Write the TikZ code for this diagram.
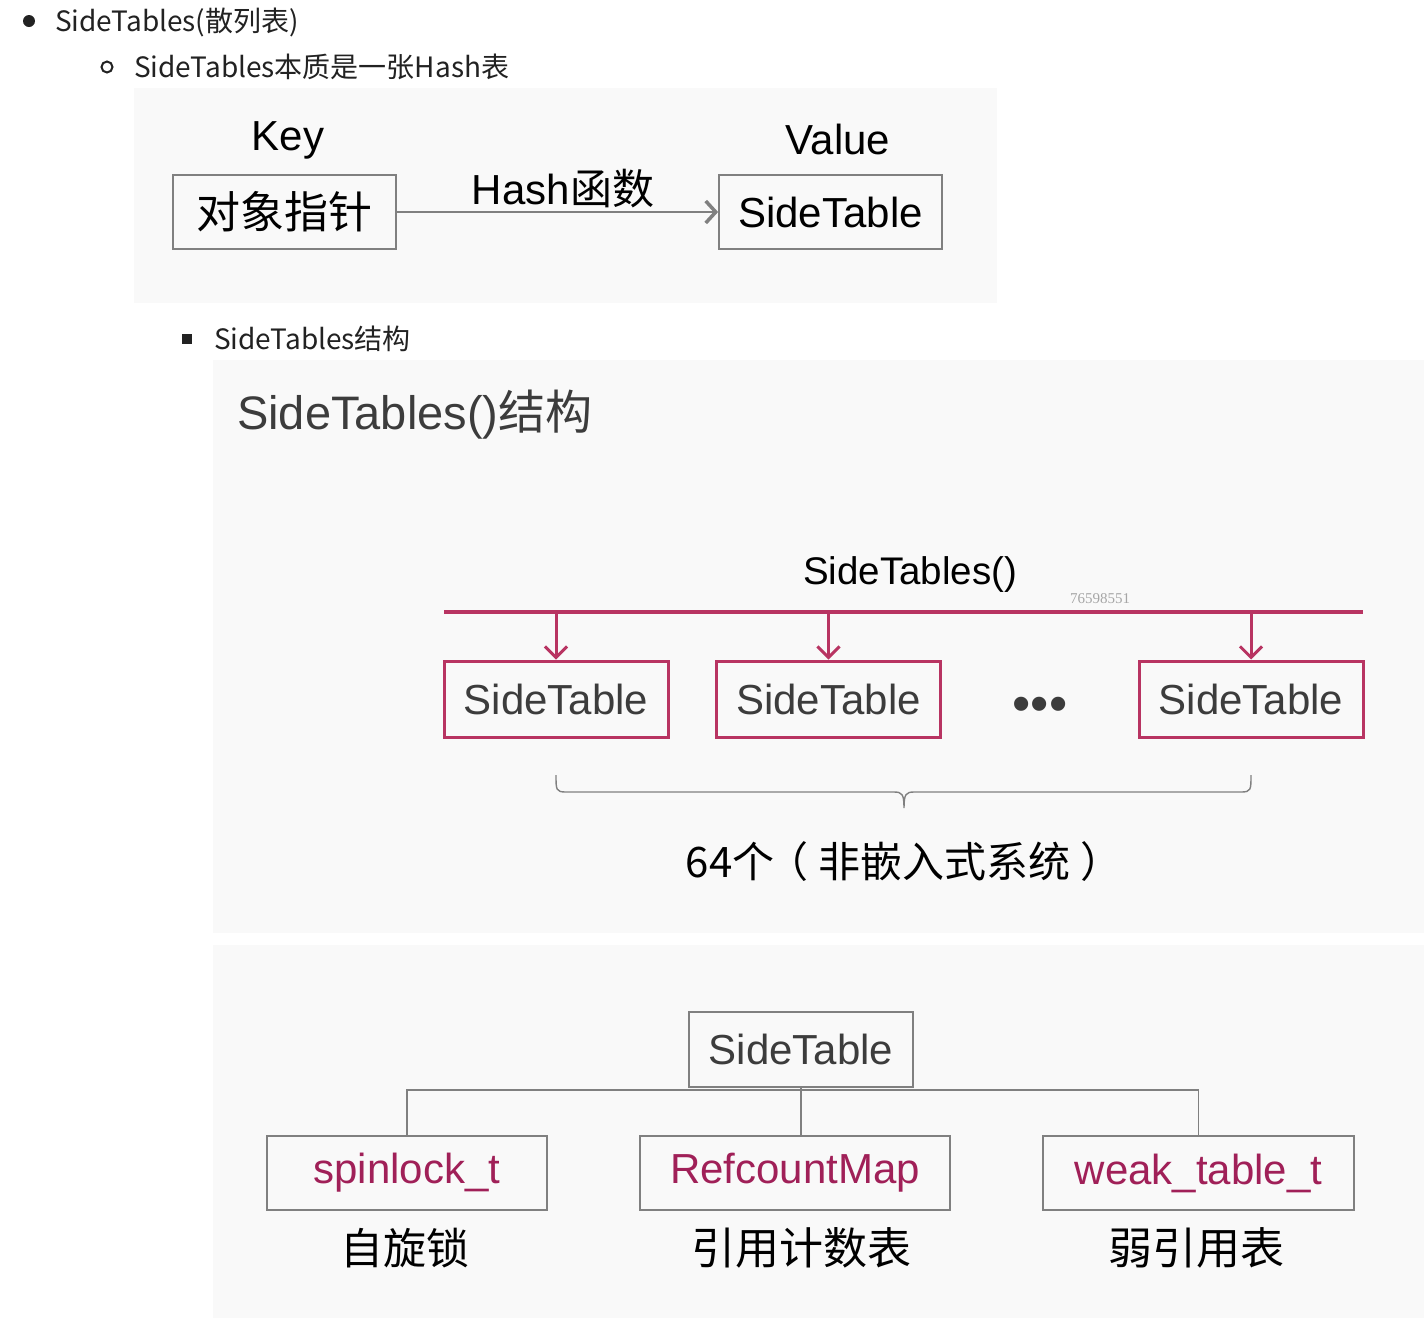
\documentclass[tikz,border=0pt]{standalone}
\usepackage{fontspec}
\setmainfont{Liberation Sans}
\newfontfamily\cjk{Noto Sans CJK SC}
\newfontfamily\wmfont{Liberation Serif}
\usetikzlibrary{arrows.meta}
\definecolor{acc}{RGB}{184,52,98}
\definecolor{acctext}{RGB}{160,32,88}
\definecolor{boxgray}{RGB}{128,128,128}
\definecolor{panel}{RGB}{249,249,249}
\definecolor{txt}{RGB}{34,34,34}
\definecolor{dtxt}{RGB}{60,60,60}
\newcommand\fsz[1]{\fontsize{#1}{#1}\selectfont}
\tikzset{
  gbox/.style={draw=boxgray, line width=1.8pt, inner sep=0pt, text=black},
  abox/.style={draw=acc, line width=3pt, inner sep=0pt, text=dtxt, minimum width=224pt, minimum height=76pt},
  plain/.style={inner sep=0pt},
  gline/.style={draw=boxgray, line width=1.6pt},
  garrow/.style={draw=boxgray, line width=2pt, -{Straight Barb[length=10pt,width=22pt,line width=3.5pt]}},
  aarrow/.style={draw=acc, line width=3pt, -{Straight Barb[length=11pt,width=22pt]}},
}
\begin{document}
\begin{tikzpicture}[x=1pt,y=-1pt]
\useasboundingbox (0,0) rectangle (1424,1318);
\fill[white] (0,0) rectangle (1424,1318);
\fill[panel] (134,88) rectangle (997,303);
\fill[panel] (213,360) rectangle (1424,933);
\fill[panel] (213,945) rectangle (1424,1318);

% bullets
\fill[txt] (29,21) circle (6pt);
\node[plain, anchor=west, text=txt] (b1) at (55,22) {\cjk\fsz{28}SideTables(散列表)};
\draw[txt, line width=2pt] (107,67) circle (5.5pt);
\node[plain, anchor=west, text=txt] (b2) at (134,67) {\cjk\fsz{28}SideTables本质是一张Hash表};
\fill[txt] (182,334) rectangle (192,344);
\node[plain, anchor=west, text=txt] (b3) at (214,339) {\cjk\fsz{28}SideTables结构};

% Key / Value diagram
\node[plain] (keyl) at (288,140) {\fsz{42}Key};
\node[plain] (vall) at (838,139) {\fsz{42}Value};
\node[gbox, minimum width=223pt, minimum height=74pt] (key) at (284.5,212) {\cjk\fsz{44}对象指针};
\node[gbox, minimum width=223pt, minimum height=74pt] (val) at (830.5,212) {\fsz{42}SideTable};
\draw[garrow] (key.east) -- (val.west);
\node[plain] (hash) at (563,189) {\fsz{42}Hash{\cjk 函数}};

% SideTables() structure
\node[plain, anchor=west, text=dtxt] (title) at (237,415) {\fsz{47}SideTables(){\cjk 结构}};
\node[plain, text=black] (stsl) at (910,575) {\fsz{38.5}SideTables()};
\node[plain, text=black!35] (wm) at (1100,599) {\wmfont\fsz{15}76598551};
\coordinate (busL) at (444,612);
\coordinate (busR) at (1363,612);
\draw[acc, line width=4pt] (busL) -- (busR);
\node[abox] (st1) at (556,699) {\fsz{42}SideTable};
\node[abox] (st2) at (828.5,699) {\fsz{42}SideTable};
\node[abox] (st3) at (1251,699) {\fsz{42}SideTable};
\coordinate (t1) at (st1.north |- busL);
\coordinate (t2) at (st2.north |- busL);
\coordinate (t3) at (st3.north |- busL);
\draw[aarrow] (t1) -- (st1.north);
\draw[aarrow] (t2) -- (st2.north);
\draw[aarrow] (t3) -- (st3.north);
\node[plain, text=dtxt] (dots) at (1040,709) {\fsz{52}•••};
\coordinate (brL) at (556,775);
\coordinate (brM) at (904,808);
\coordinate (brR) at (1251,775);
\draw[gline, line width=1.4pt] (brL) .. controls (556,790) and (556,792) .. (566,792) -- (894,792) .. controls (902,792) and (904,794) .. (brM)
  .. controls (904,794) and (906,792) .. (914,792) -- (1241,792) .. controls (1251,792) and (1251,790) .. (brR);
\node[plain, text=black] (cnt) at (904,862) {\cjk\fsz{42}64个\hspace{-8pt}（\hspace{10pt}非嵌入式系统\hspace{10pt}）};

% SideTable members
\node[gbox, text=dtxt, minimum width=224pt, minimum height=75pt] (stt) at (801,1049.5) {\fsz{42}SideTable};
\node[gbox, text=acctext, minimum width=280pt, minimum height=74pt] (c1) at (407,1173) {\fsz{42}spinlock\_t};
\node[gbox, text=acctext, minimum width=310pt, minimum height=74pt] (c2) at (795,1173) {\fsz{42}RefcountMap};
\node[gbox, text=acctext, minimum width=311pt, minimum height=74pt] (c3) at (1198.5,1173) {\fsz{42}weak\_table\_t};
\coordinate (j) at (801,1090);
\draw[gline] (stt.south) -- (stt.south |- c2.north);
\draw[gline] (c1.north) |- (j) -| (c3.north);
\node[plain, text=black] (d1) at (405,1248) {\cjk\fsz{43}自旋锁};
\node[plain, text=black] (d2) at (801,1248) {\cjk\fsz{44}引用计数表};
\node[plain, text=black] (d3) at (1196,1248) {\cjk\fsz{44}弱引用表};
\end{tikzpicture}
\end{document}
